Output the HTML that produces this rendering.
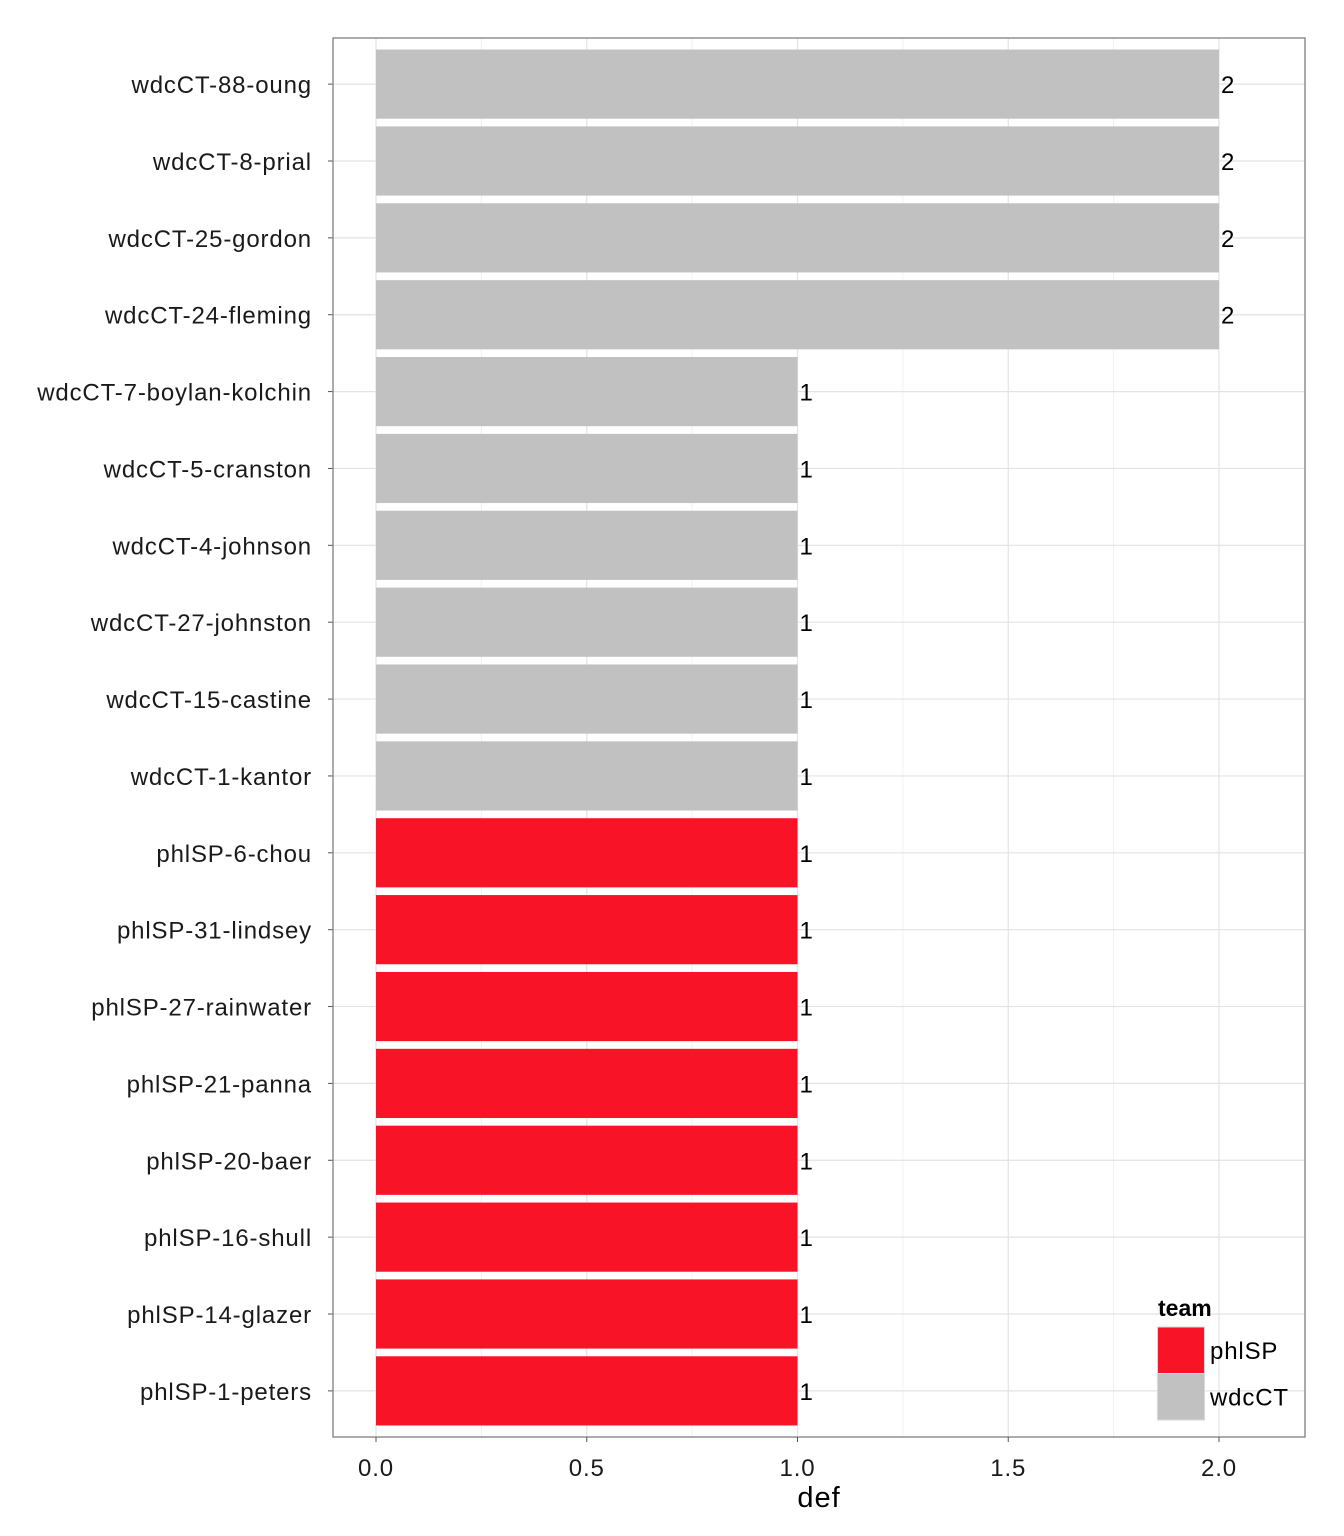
<!DOCTYPE html>
<html><head><meta charset="utf-8"><style>
html,body{margin:0;padding:0;background:#fff;}
svg{display:block;font-family:"Liberation Sans",Arial,sans-serif;}
</style></head><body>
<svg id="chart" width="1344" height="1536" xmlns="http://www.w3.org/2000/svg"></svg>
<script>
const categories = ["wdcCT-88-oung","wdcCT-8-prial","wdcCT-25-gordon","wdcCT-24-fleming","wdcCT-7-boylan-kolchin","wdcCT-5-cranston","wdcCT-4-johnson","wdcCT-27-johnston","wdcCT-15-castine","wdcCT-1-kantor","phlSP-6-chou","phlSP-31-lindsey","phlSP-27-rainwater","phlSP-21-panna","phlSP-20-baer","phlSP-16-shull","phlSP-14-glazer","phlSP-1-peters"];
const values = [2,2,2,2,1,1,1,1,1,1,1,1,1,1,1,1,1,1];
const teams = ["wdcCT","wdcCT","wdcCT","wdcCT","wdcCT","wdcCT","wdcCT","wdcCT","wdcCT","wdcCT","phlSP","phlSP","phlSP","phlSP","phlSP","phlSP","phlSP","phlSP"];
const xTicks = [0,0.5,1,1.5,2];
const xTickLabels = ["0.0","0.5","1.0","1.5","2.0"];
const legendTeams = ["phlSP","wdcCT"];

const NS="http://www.w3.org/2000/svg";
const svg=document.getElementById('chart');
const colors={phlSP:"#F81327",wdcCT:"#C1C1C1"};
const P={l:333,r:1305,t:38,b:1437};
const x0=376, x2=1219;
const xs=v=>x0+(x2-x0)*v/2;
const n=categories.length;
const band=(P.b-P.t)/(n-1+1.2);
const ys=i=>P.t+band*(0.6+i);
const FS=24, LS=0.85;
function mk(tag,attrs,parent){const e=document.createElementNS(NS,tag);for(const k in attrs)e.setAttribute(k,attrs[k]);(parent||svg).appendChild(e);return e;}

const grid=mk('g',{});


for(let v=0.25;v<2;v+=0.5){mk('line',{x1:xs(v),x2:xs(v),y1:P.t,y2:P.b,stroke:"#F0F0F0","stroke-width":1},grid);}
xTicks.forEach(v=>mk('line',{x1:xs(v),x2:xs(v),y1:P.t,y2:P.b,stroke:"#E3E3E3","stroke-width":1.2},grid));
categories.forEach((c,i)=>mk('line',{x1:P.l,x2:P.r,y1:ys(i),y2:ys(i),stroke:"#E3E3E3","stroke-width":1.2},grid));

categories.forEach((c,i)=>{
  const h=band*0.9;
  const r=mk('rect',{x:xs(0),y:ys(i)-h/2,width:xs(values[i])-xs(0),height:h,fill:colors[teams[i]]});
  
  
  const t=mk('text',{x:xs(values[i])+2,y:ys(i)+9,"font-size":FS,fill:"#000"});
  t.textContent=values[i];
  
  
  const yl=mk('text',{x:312,y:ys(i)+9,"font-size":FS,"letter-spacing":LS,fill:"#1a1a1a","text-anchor":"end"});
  yl.textContent=c;
  
  
  mk('line',{x1:P.l-5,x2:P.l,y1:ys(i),y2:ys(i),stroke:"#555"});
});
const frame=mk('rect',{x:P.l,y:P.t,width:P.r-P.l,height:P.b-P.t,fill:"none",stroke:"#7F7F7F","stroke-width":1.3});


xTicks.forEach((v,i)=>{
  mk('line',{x1:xs(v),x2:xs(v),y1:P.b,y2:P.b+5,stroke:"#555"});
  const t=mk('text',{x:xs(v),y:1476,"font-size":FS,"letter-spacing":LS,fill:"#1a1a1a","text-anchor":"middle"});
  t.textContent=xTickLabels[i];
  
  
});
const xt=mk('text',{x:819,y:1507,"font-size":29,"letter-spacing":1,fill:"#000","text-anchor":"middle"});
xt.textContent="def";



const lg=mk('g',{});


const lt=mk('text',{x:1158,y:1316,"font-size":23,"font-weight":"bold",fill:"#000"},lg);
lt.textContent="team";


legendTeams.forEach((tm,i)=>{
  const y=1327+i*46.5;
  const k=mk('rect',{x:1157.5,y:y,width:47,height:46.5,fill:colors[tm],stroke:"#D9D9D9","stroke-width":1},lg);
  
  
  const l=mk('text',{x:1210,y:y+32,"font-size":FS,"letter-spacing":LS,fill:"#000"},lg);
  l.textContent=tm;
  
  
});
</script>
</body></html>
